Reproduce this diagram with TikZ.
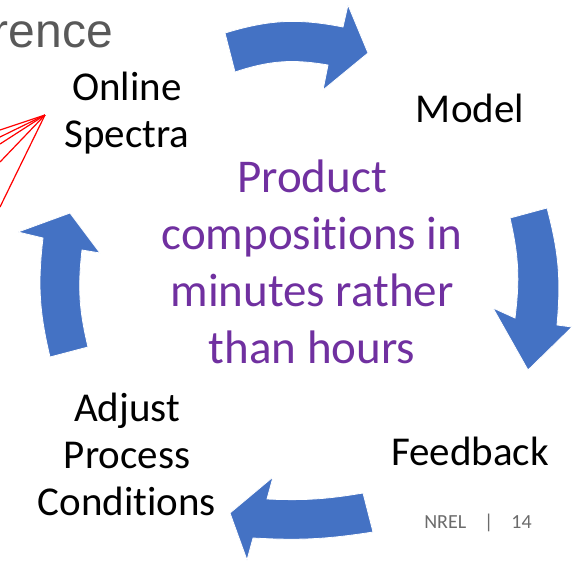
\documentclass[tikz,border=0pt]{standalone}
\usepackage{fontspec}
\setmainfont{Carlito}[Ligatures={NoCommon,NoContextual}]
\newfontfamily\headfont{Liberation Sans}
\definecolor{cycleblue}{HTML}{4472C4}
\definecolor{cyclepurple}{HTML}{7030A0}
\definecolor{headgray}{HTML}{595959}
\definecolor{footgray}{HTML}{6B6B6B}

\tikzset{
  cyclearrow/.style={fill=cycleblue,draw=white,line width=0.8pt},
  stagetext/.style={anchor=base,align=center,inner sep=0pt,
    font=\fontsize{41}{47}\selectfont},
  centertext/.style={anchor=base,align=center,inner sep=0pt,text=cyclepurple,
    font=\fontsize{47}{57}\selectfont},
  spectraline/.style={red,line width=1.2pt}
}

\begin{document}
\begin{tikzpicture}[x=1pt,y=-1pt]
    \useasboundingbox (0,0) rectangle (572,563);

    % slide title, cut at the left edge
    \node[anchor=base east,inner sep=0pt,text=headgray,
      font=\headfont\fontsize{48}{58}\selectfont] (title) at (113,47) {rence};

    % fan of lines into the spectra
    \coordinate (apex) at (45,115);
    \foreach \y in {130,137,144,162,207} {
        \coordinate (fan\y) at (0,\y);
        \draw[spectraline] (apex) -- (fan\y);
    }

    % the four cycle arrows
    \filldraw[cyclearrow] (225,33) to[bend left=14] (343,27) -- (348,5) -- (368,53)
        -- (323,90) -- (328,65) to[bend right=14] (235,72) -- cycle;
    \filldraw[cyclearrow] (510,218) -- (547,208) to[bend left=10] (557,325) -- (572,327)
        -- (528,370) -- (493,308) -- (515,318) to[bend right=10] (510,218) -- cycle;
    \filldraw[cyclearrow] (363,493) to[bend left=6] (267,499) -- (273,477) -- (230,513)
        -- (247,560) -- (253,538) to[bend right=6] (373,532) -- cycle;
    \filldraw[cyclearrow] (50,357) -- (88,347) to[bend left=10] (82,250) -- (100,253)
        -- (70,213) -- (18,232) -- (43,238) to[bend right=10] (50,357) -- cycle;

    % base anchor sits on the last line
    \node[stagetext] (spectra) at (127,147) {Online\\Spectra};
    \node[stagetext] (model) at (470,122) {Model};
    \node[stagetext] (feedback) at (470,465) {Feedback};
    \node[stagetext] (adjust) at (127,515) {Adjust\\Process\\Conditions};

    \node[centertext] (product) at (312,363) {Product\\compositions in\\minutes rather\\than hours};

    \node[anchor=base,inner sep=0pt,text=footgray,font=\fontsize{20}{24}\selectfont]
      (footer) at (478,528) {NREL\hspace{18pt}|\hspace{18pt}14};
\end{tikzpicture}
\end{document}
